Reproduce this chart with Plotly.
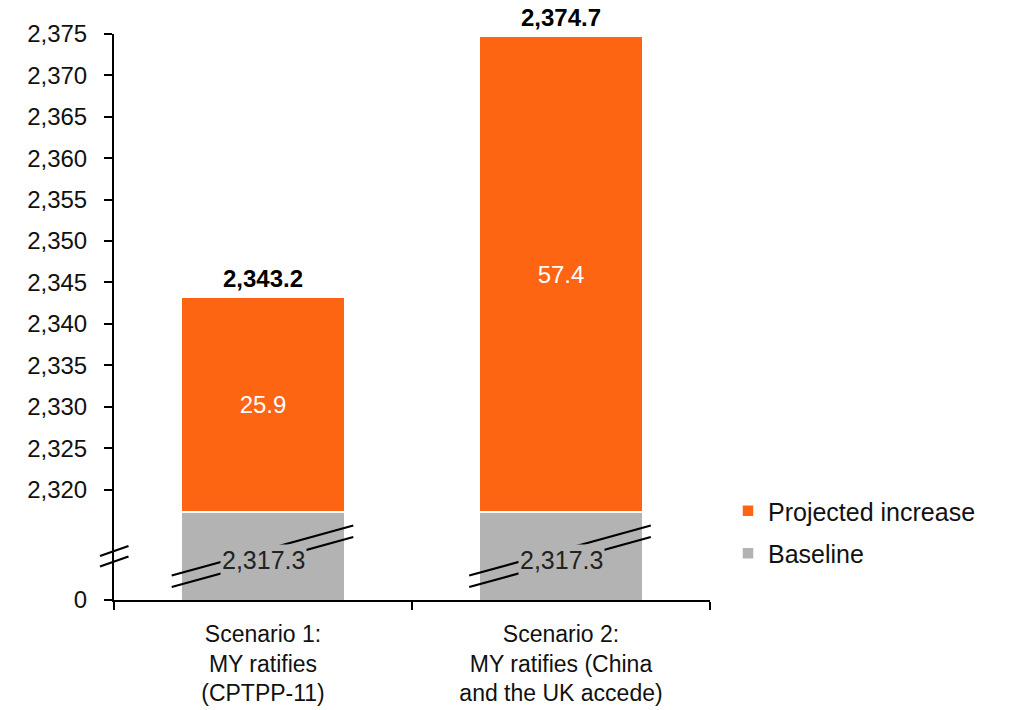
import plotly.graph_objects as go

# ---- data ----
categories = ["Scenario 1:<br>MY ratifies<br>(CPTPP-11)",
              "Scenario 2:<br>MY ratifies (China<br>and the UK accede)"]
baseline = [2317.3, 2317.3]
increase = [25.9, 57.4]
totals = [2343.2, 2374.7]
tick_values = [2320, 2325, 2330, 2335, 2340, 2345, 2350, 2355, 2360, 2365, 2370, 2375]

# ---- layout constants ----
W, H = 1010, 710
ML, MR, MT, MB = 114, 300, 34, 110
PW, PH = W - ML - MR, H - MT - MB
Y_MIN, Y_MAX = 2306.66, 2375.0   # bottom of broken axis is labelled "0"

ORANGE = "#FD6512"
GRAY = "#B3B3B3"
FONT = "Liberation Sans, Arial, sans-serif"


def fmt(v):
    return f"{v:,.1f}"


fig = go.Figure()
fig.add_trace(go.Bar(
    x=categories, y=baseline, name="Baseline",
    marker=dict(color=GRAY, line=dict(color="white", width=1.5)),
    width=0.55, legendgroup="b", legendrank=2, hoverinfo="skip"))
fig.add_trace(go.Bar(
    x=categories, y=increase, name="Projected increase",
    marker=dict(color=ORANGE, line=dict(color="white", width=1.5)),
    width=0.55, text=[fmt(v) for v in increase], textposition="inside",
    insidetextanchor="middle", textfont=dict(color="white", size=24, family=FONT),
    legendgroup="a", legendrank=1, hoverinfo="skip"))


def px(xp):
    return (xp - ML) / PW


def py(yp):
    return (MT + PH - yp) / PH


shapes = []
line = dict(color="black", width=2.2)
# axis break marks on y axis
for dy in (0, 10.5):
    shapes.append(dict(type="line", xref="paper", yref="paper",
                       x0=px(100), y0=py(556 + dy), x1=px(128.5), y1=py(546 + dy), line=line))
# break marks across bars
for i in range(len(categories)):
    off = i * 297.5
    for dy in (0, 11.5):
        shapes.append(dict(type="line", xref="paper", yref="paper",
                           x0=px(171.7 + off), y0=py(575.5 + dy),
                           x1=px(353.3 + off), y1=py(525.5 + dy), line=line))

annotations = []
for i, c in enumerate(categories):
    annotations.append(dict(x=c, y=totals[i], xref="x", yref="y", text=f"<b>{fmt(totals[i])}</b>",
                            showarrow=False, yanchor="bottom", yshift=3,
                            font=dict(size=24, color="black", family=FONT)))
    annotations.append(dict(x=c, y=(Y_MIN + baseline[i]) / 2, xref="x", yref="y",
                            text=fmt(baseline[i]), showarrow=False, bgcolor=GRAY, borderpad=1,
                            yshift=-4, font=dict(size=25, color="#222222", family=FONT)))

fig.update_layout(
    width=W, height=H, margin=dict(l=ML, r=MR, t=MT, b=MB, autoexpand=False),
    paper_bgcolor="white", plot_bgcolor="white",
    barmode="stack", bargap=0.45,
    font=dict(family=FONT, size=24, color="#111111"),
    showlegend=True,
    legend=dict(x=px(728), y=py(488), xanchor="left", yanchor="top",
                traceorder="grouped", tracegroupgap=7,
                font=dict(size=25, color="#111111"), bgcolor="rgba(0,0,0,0)"),
    shapes=shapes, annotations=annotations,
    xaxis=dict(showline=True, linecolor="black", linewidth=2, ticks="outside", tickson="boundaries",
               ticklen=8, tickwidth=2, tickcolor="black", showgrid=False, zeroline=False,
               automargin=False, ticklabelstandoff=12, tickfont=dict(size=23, color="#111111")),
    yaxis=dict(range=[Y_MIN, Y_MAX], showline=True, linecolor="black", linewidth=2,
               ticks="outside", ticklen=8, tickwidth=2, tickcolor="black",
               tickvals=[Y_MIN] + tick_values,
               ticktext=["0"] + [f"{v:,}" for v in tick_values],
               showgrid=False, zeroline=False, ticklabelstandoff=12, automargin=False,
               tickfont=dict(size=24, color="#111111")),
)

fig.write_html("out.html")
